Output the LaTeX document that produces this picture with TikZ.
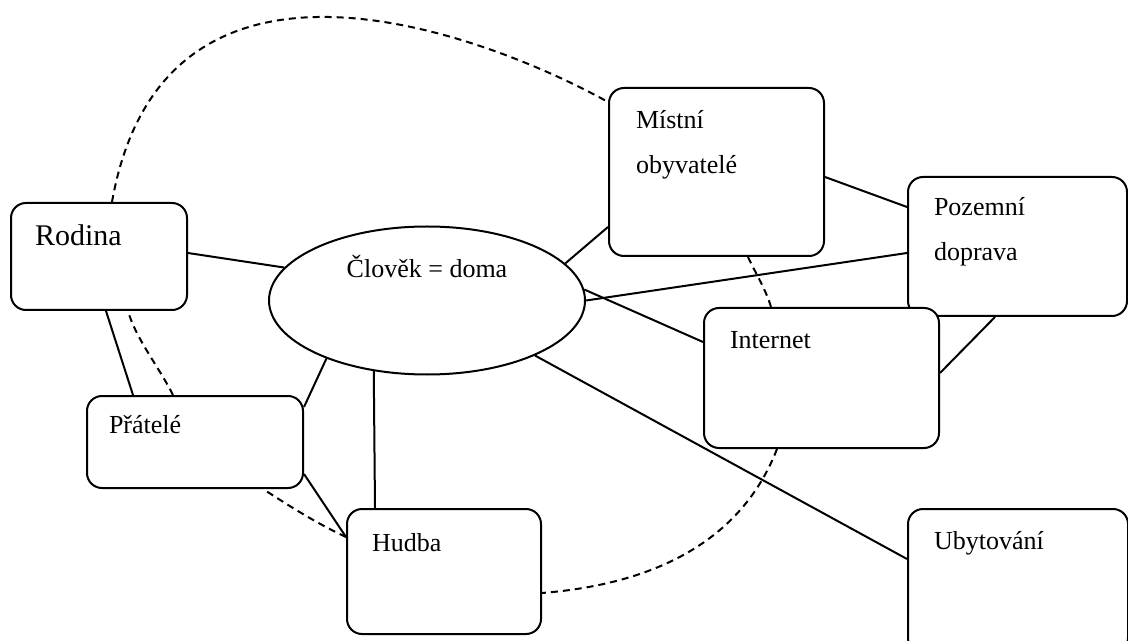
\documentclass[tikz,border=0pt]{standalone}
\usepackage{fontspec}
\setmainfont{Liberation Serif}
\usetikzlibrary{shapes.geometric}

\newcommand{\boxtext}[5]{\parbox[t][#2][t]{#1}{\raggedright\setlength{\leftskip}{#3}\rule{0pt}{#4}#5}}

\begin{document}
\begin{tikzpicture}[
            x=0.5pt, y=-0.5pt,
            font=\fontsize{13pt}{22.5pt}\selectfont,
            box/.style={
                draw,
                fill=white,
                line width=1pt,
                rounded corners=7.5pt,
                inner sep=0pt,
                anchor=north west
            },
            hub/.style={
                ellipse,
                draw,
                fill=white,
                line width=1pt,
                inner sep=0pt,
                minimum width=158pt,
                minimum height=74pt,
                text height=9pt,
                text depth=31.5pt
            },
            link/.style={line width=1pt},
            ring/.style={line width=1pt, dash pattern=on 3.5pt off 2.5pt}
        ]
        \useasboundingbox (0,0) rectangle (1128,641);

        \node[box] (rodina) at (10,202) {\boxtext{88pt}{53.5pt}{12pt}{21.5pt}{\fontsize{15pt}{18pt}\selectfont Rodina}};
        \node[box] (mistni) at (608,87) {\boxtext{107.5pt}{84pt}{13.5pt}{20.5pt}{Místní\\obyvatelé}};
        \node[box] (pozemni) at (907,176) {\boxtext{109.5pt}{69.5pt}{13pt}{19.5pt}{Pozemní\\doprava}};
        \node[box] (internet) at (703,307) {\boxtext{117.5pt}{70pt}{13pt}{20.5pt}{Internet}};
        \node[box] (pratele) at (86,395) {\boxtext{108pt}{46pt}{11pt}{18.5pt}{Přátelé}};
        \node[box] (hudba) at (346,508) {\boxtext{97pt}{62.5pt}{12.5pt}{21pt}{Hudba}};
        \node[box] (ubytovani) at (907,508) {\boxtext{110pt}{72pt}{13pt}{20pt}{Ubytování}};
        \node[hub] (hub) at (427,300.5) {Člověk = doma};

        \draw[link] ([yshift=-25.5pt]rodina.north east) -- (hub.167.7);
        \draw[link] ([xshift=48pt]rodina.south west) -- ([xshift=23.5pt]pratele.north west);
        \draw[link] ([yshift=-6pt]pratele.north east) -- (hub.210.7);
        \draw[link] ([yshift=7.5pt]pratele.south east) -- ([yshift=-14.5pt]hudba.north west);
        \draw[link] ([xshift=14.5pt]hudba.north west) -- (hub.233.4);
        \draw[link] (hub.15.8) -- ([yshift=15pt]mistni.south west);
        \draw[link] ([yshift=-45pt]mistni.north east) -- ([yshift=-15.5pt]pozemni.north west);
        \draw[link] (hub.0.9) -- ([yshift=-38.5pt]pozemni.north west);
        \draw[link] (hub.4.2) -- ([yshift=-17.5pt]internet.north west);
        \draw[link] ([yshift=-33pt]internet.north east) -- ([xshift=44pt]pozemni.south west);
        \draw[link] (hub.-27) -- ([yshift=-25.5pt]ubytovani.north west);

        \draw[ring] ([xshift=51pt]rodina.north west) .. controls +(53,-300) and +(-106,-59) .. ([yshift=-7.5pt]mistni.north west);
        \draw[ring] ([xshift=70pt]mistni.south west) .. controls +(8,17) and +(-5,-17) .. ([xshift=34pt]internet.north west);
        \draw[ring] ([xshift=37pt]internet.south west) .. controls +(-42,108) and +(86,-7) .. ([yshift=-42.5pt]hudba.north east);
        \draw[ring] ([yshift=-14.5pt]hudba.north west) .. controls +(-30,-14) and +(28,18) .. ([xshift=88.5pt]pratele.south west);
        \draw[ring] ([xshift=43.5pt]pratele.north west) .. controls +(-14,-28) and +(8,28) .. ([xshift=59pt]rodina.south west);
        \end{tikzpicture}
\end{document}
